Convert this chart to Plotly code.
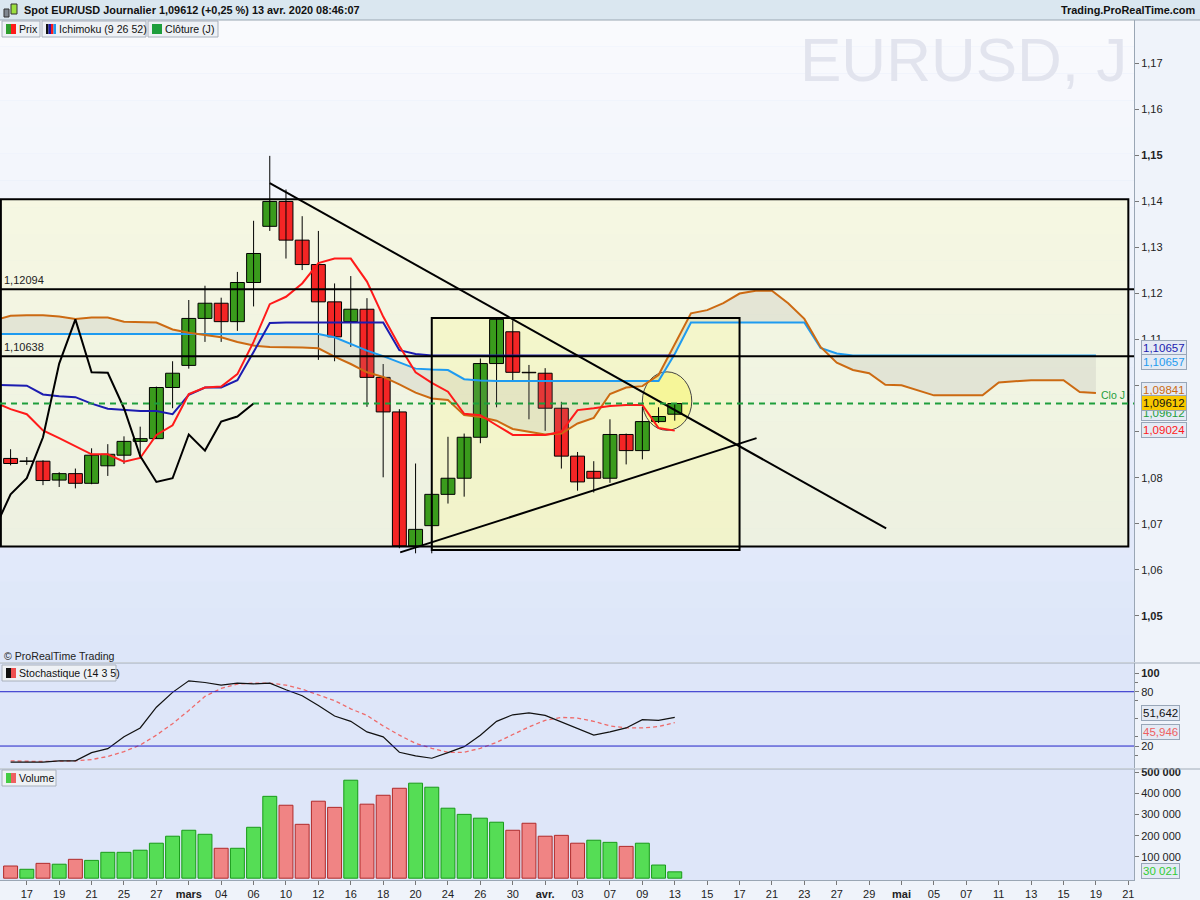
import plotly.graph_objects as go

# ---------------- data ----------------
title_text = "Spot EUR/USD Journalier 1,09612 (+0,25 %) 13 avr. 2020 08:46:07"

tick_labels = ["17", "19", "21", "25", "27", "mars", "04", "06", "10", "12", "16", "18",
               "20", "24", "26", "30", "avr.", "03", "07", "09", "13", "15", "17", "21",
               "23", "27", "29", "mai", "05", "07", "11", "13", "15", "19", "21"]
month_labels = ["mars", "avr.", "mai"]
tick_idx = list(range(1, 70, 2))

# daily candles, 14 Feb -> 13 Apr 2020 (trading day index)
bar_idx = list(range(42))
opens = [1.0842, 1.08355, 1.0836, 1.0795, 1.0809, 1.0788, 1.0826, 1.0849, 1.0879, 1.0885,
         1.0996, 1.1044, 1.1146, 1.1179, 1.1139, 1.1224, 1.1346, 1.1400, 1.1316, 1.1263,
         1.1182, 1.1139, 1.1166, 1.1018, 1.0943, 1.0652, 1.0696, 1.0764, 1.0799, 1.0888,
         1.1048, 1.1117, 1.1029, 1.1027, 1.0951, 1.0847, 1.0814, 1.0799, 1.0894, 1.0859,
         1.0922, 1.0938]
highs = [1.0862, 1.0845, 1.0838, 1.0812, 1.0820, 1.0864, 1.0873, 1.0890, 1.0911, 1.0998,
         1.1053, 1.1186, 1.1217, 1.1191, 1.1247, 1.1358, 1.1499, 1.1426, 1.1368, 1.1336,
         1.1222, 1.1238, 1.1190, 1.1047, 1.0949, 1.0831, 1.0766, 1.0889, 1.0896, 1.1059,
         1.1146, 1.1142, 1.1045, 1.1038, 1.0965, 1.0856, 1.0836, 1.0927, 1.0896, 1.0954,
         1.0953, 1.0962]
lows = [1.0827, 1.0828, 1.0784, 1.0780, 1.0777, 1.0786, 1.0804, 1.0830, 1.0842, 1.0885,
        1.0951, 1.1037, 1.1095, 1.1095, 1.1119, 1.1172, 1.1336, 1.1276, 1.1251, 1.1056,
        1.1053, 1.1084, 1.0954, 1.0801, 1.0647, 1.0636, 1.0636, 1.0744, 1.0759, 1.0875,
        1.0953, 1.1012, 1.0927, 1.0902, 1.0820, 1.0772, 1.0768, 1.0789, 1.0829, 1.0840,
        1.0919, 1.0924]
closes = [1.0831, 1.08365, 1.0794, 1.0809, 1.0788, 1.0849, 1.0851, 1.0879, 1.0885, 1.0996,
          1.1027, 1.1146, 1.1179, 1.1139, 1.1224, 1.1287, 1.1400, 1.1316, 1.1263, 1.1182,
          1.1106, 1.1166, 1.1018, 1.0943, 1.0652, 1.0688, 1.0764, 1.0799, 1.0888, 1.1048,
          1.1144, 1.1029, 1.1028, 1.0951, 1.0847, 1.0791, 1.0799, 1.0894, 1.0859, 1.0922,
          1.0933, 1.09612]
volumes = [57500, 42000, 70000, 66000, 89000, 84000, 122000, 122000, 132000, 165000,
           198000, 226000, 207000, 141000, 141000, 240000, 386000, 344000, 254000, 363000,
           334000, 462000, 349000, 391000, 424000, 448000, 429000, 330000, 301000, 283000,
           264000, 226000, 259000, 198000, 202000, 165000, 179000, 169000, 150000, 165000,
           62000, 30021]
stoch_k = [2.2, 2.2, 2.2, 3.6, 3.6, 12.7, 17.1, 30.2, 40.0, 62.9, 79.3, 92.0, 90.2, 87.3,
           89.5, 88.7, 89.5, 82.2, 75.6, 64.7, 53.1, 47.3, 35.6, 30.2, 13.1, 9.1, 6.5, 12.7,
           19.3, 32.0, 47.3, 54.5, 56.7, 53.8, 46.5, 38.5, 32.0, 35.6, 40.0, 49.1, 48.4, 51.642]
stoch_d = [3.6, 2.9, 2.9, 3.3, 3.6, 5.1, 8.4, 13.8, 21.1, 32.0, 44.7, 59.3, 74.9, 83.6,
           88.4, 89.5, 89.5, 87.3, 82.9, 76.4, 70.2, 61.1, 53.8, 42.2, 32.0, 22.9, 17.5, 13.1,
           13.1, 17.5, 24.0, 32.7, 41.1, 48.4, 51.6, 50.9, 47.3, 42.2, 40.0, 40.0, 41.5, 45.946]

# Ichimoku (9 26 52)
line_idx = list(range(-1, 42))
tenkan = [1.0964, 1.0949, 1.0938, 1.0903, 1.0886, 1.0869, 1.0851, 1.0851, 1.0835, 1.0843,
          1.0893, 1.0914, 1.0982, 1.0996, 1.0998, 1.1025, 1.1095, 1.1177, 1.1193, 1.1222,
          1.1266, 1.1276, 1.1276, 1.1226, 1.1150, 1.1086, 1.1029, 1.1006, 1.0987, 1.0939,
          1.0936, 1.0914, 1.0893, 1.0893, 1.0893, 1.0900, 1.0947, 1.0951, 1.0956, 1.0958,
          1.0958, 1.0908, 1.09024]
kijun = [1.1002, 1.1001, 1.1000, 1.0981, 1.0977, 1.0975, 1.0961, 1.0950, 1.0947, 1.0945,
         1.0945, 1.0938, 1.0980, 1.0996, 1.0996, 1.1012, 1.1073, 1.1136, 1.1137, 1.1137,
         1.1137, 1.1137, 1.1137, 1.1137, 1.1137, 1.1077, 1.1069, 1.10657, 1.10657, 1.10657,
         1.10657, 1.10657, 1.10657, 1.10657, 1.10657, 1.10657, 1.10657, 1.10657, 1.10657,
         1.10657, 1.10657, 1.10657, 1.10657]
cloud_idx = list(range(-1, 68))
senkou_a = [1.1112] * 21 + [1.1105, 1.1090, 1.1076, 1.1064, 1.1051, 1.1037, 1.1035, 1.1034,
            1.1014, 1.1011] + [1.1010] * 11 + [1.1069] + [1.1137] * 8 + [1.1082, 1.1070] \
           + [1.10657] * 16
senkou_b = [1.1142, 1.1152, 1.1153, 1.1153, 1.1150, 1.1145, 1.1148, 1.1148, 1.1139, 1.1138,
            1.1137, 1.1122, 1.1115, 1.1110, 1.1105, 1.1095, 1.1087, 1.1084, 1.1084, 1.1083,
            1.1081, 1.1063, 1.1047, 1.1029, 1.1019, 1.1003, 1.0985, 1.0972, 1.0969, 1.0936,
            1.0932, 1.0924, 1.0906, 1.0900, 1.0894, 1.0896, 1.0918, 1.0930, 1.0982, 1.0996,
            1.0999, 1.1023, 1.1091, 1.1157, 1.1164, 1.1179, 1.1200, 1.1206, 1.1206, 1.1179,
            1.1145, 1.1084, 1.1050, 1.1034, 1.1027, 1.1002, 1.1001, 1.0990, 1.0979, 1.0979,
            1.0979, 1.0979, 1.1007, 1.1010, 1.1012, 1.1012, 1.1012, 1.0986, 1.09841]

price_ticks = [1.05, 1.06, 1.07, 1.08, 1.09, 1.10, 1.11, 1.12, 1.13, 1.14, 1.15, 1.16, 1.17]
stoch_ticks = [20, 80, 100]
vol_ticks = [100000, 200000, 300000, 400000, 500000]

# drawings on the chart
levels = [1.12094, 1.10638]
last_close = 1.09612
outer_box = [-0.6, 69.0, 1.0651, 1.1405]
inner_box = [26.0, 45.0, 1.0643, 1.1147]
down_trend = [16.0, 1.1440, 54.05, 1.0690]
up_trend = [24.05, 1.0638, 46.05, 1.0886]
circle = [39.0, 42.05, 1.0903, 1.1030]

# ---------------- figure ----------------
FONT = "Liberation Sans, Arial, sans-serif"
GREEN = "#3A9B1C"
RED = "#F42525"
X_RANGE = [-0.654, 69.35]
PLOT_W, PLOT_H = 1134, 860


def px(xp):
    return xp / PLOT_W


def py(yp):
    return (880 - yp) / PLOT_H


fig = go.Figure()

# candle wicks
wx, wy = [], []
for i, h, l in zip(bar_idx, highs, lows):
    wx += [i, i, None]
    wy += [l, h, None]
fig.add_trace(go.Scatter(x=wx, y=wy, mode="lines", line=dict(color="black", width=1),
                         xaxis="x", yaxis="y", hoverinfo="skip"))

# ichimoku cloud
fig.add_trace(go.Scatter(x=cloud_idx, y=senkou_a, mode="lines",
                         line=dict(color="#1E9BF0", width=2), xaxis="x", yaxis="y"))
fig.add_trace(go.Scatter(x=cloud_idx, y=senkou_b, mode="lines", fill="tonexty",
                         fillcolor="rgba(150,150,150,0.16)",
                         line=dict(color="#CC6A12", width=2), xaxis="x", yaxis="y"))

# candle bodies
body_col = [GREEN if c > o else RED for o, c in zip(opens, closes)]
fig.add_trace(go.Bar(x=bar_idx, y=[abs(c - o) for o, c in zip(opens, closes)],
                     base=[min(o, c) for o, c in zip(opens, closes)], width=0.86,
                     marker=dict(color=body_col, line=dict(color="black", width=1)),
                     xaxis="x", yaxis="y"))

fig.add_trace(go.Scatter(x=line_idx, y=kijun, mode="lines",
                         line=dict(color="#1C1CB0", width=2), xaxis="x", yaxis="y"))
fig.add_trace(go.Scatter(x=line_idx, y=tenkan, mode="lines",
                         line=dict(color="#FF1A1A", width=2), xaxis="x", yaxis="y"))
chikou_x = [i - 26 for i in bar_idx[25:]]
chikou_y = closes[25:]
fig.add_trace(go.Scatter(x=chikou_x, y=chikou_y, mode="lines",
                         line=dict(color="black", width=2), xaxis="x", yaxis="y"))

# stochastic
fig.add_trace(go.Scatter(x=bar_idx, y=stoch_d, mode="lines",
                         line=dict(color="#EE6A6A", width=1.3, dash="4px,3px"),
                         xaxis="x2", yaxis="y2"))
fig.add_trace(go.Scatter(x=bar_idx, y=stoch_k, mode="lines",
                         line=dict(color="#111111", width=1.2), xaxis="x2", yaxis="y2"))

# volume (colour from close vs previous close)
vol_up = [False] + [closes[i] > closes[i - 1] for i in range(1, len(closes))]
fig.add_trace(go.Bar(x=bar_idx, y=volumes, width=0.86,
                     marker=dict(color=["#55DD55" if u else "#F08484" for u in vol_up],
                                 line=dict(color=["#189A18" if u else "#B02A2A" for u in vol_up],
                                           width=1)),
                     xaxis="x3", yaxis="y3"))

shapes = []
# background gradient of the price panel
n_band = 24
top_c, bot_c = (249, 250, 253), (221, 230, 249)
for k in range(n_band):
    t = k / (n_band - 1)
    c = tuple(round(top_c[j] + (bot_c[j] - top_c[j]) * t) for j in range(3))
    shapes.append(dict(type="rect", xref="paper", yref="y domain", x0=0, x1=1,
                       y0=1 - (k + 1) / n_band, y1=1 - k / n_band, layer="below",
                       fillcolor="rgb(%d,%d,%d)" % c, line=dict(width=0)))
# drawing fills
shapes.append(dict(type="rect", xref="x", yref="y", x0=outer_box[0], x1=outer_box[1],
                   y0=outer_box[2], y1=outer_box[3], layer="below",
                   fillcolor="rgba(250,250,195,0.45)", line=dict(width=0)))
shapes.append(dict(type="rect", xref="x", yref="y", x0=inner_box[0], x1=inner_box[1],
                   y0=inner_box[2], y1=inner_box[3], layer="below",
                   fillcolor="rgba(248,248,170,0.40)", line=dict(width=0)))
shapes.append(dict(type="circle", xref="x", yref="y", x0=circle[0], x1=circle[1],
                   y0=circle[2], y1=circle[3], layer="below",
                   fillcolor="rgba(246,246,140,0.8)", line=dict(color="#444", width=1)))
# drawing outlines and lines
for b in (outer_box, inner_box):
    shapes.append(dict(type="rect", xref="x", yref="y", x0=b[0], x1=b[1], y0=b[2], y1=b[3],
                       line=dict(color="black", width=2)))
for lv in levels:
    shapes.append(dict(type="line", xref="paper", yref="y", x0=0, x1=1, y0=lv, y1=lv,
                       line=dict(color="black", width=2)))
for tl in (down_trend, up_trend):
    shapes.append(dict(type="line", xref="x", yref="y", x0=tl[0], y0=tl[1], x1=tl[2], y1=tl[3],
                       line=dict(color="black", width=2)))
shapes.append(dict(type="line", xref="paper", yref="y", x0=0, x1=1, y0=last_close,
                   y1=last_close, line=dict(color="#1E9E3C", width=2, dash="6px,5px")))
for lv in (80, 20):
    shapes.append(dict(type="line", xref="paper", yref="y2", x0=0, x1=1, y0=lv, y1=lv,
                       line=dict(color="#2020C8", width=1)))
# panel separators
for yp in (663, 769):
    shapes.append(dict(type="line", xref="paper", yref="paper", x0=0, x1=1200 / PLOT_W,
                       y0=py(yp), y1=py(yp), line=dict(color="#A2ACB8", width=1)))
# header bar
shapes.append(dict(type="rect", xref="paper", yref="paper", x0=0, x1=1200 / PLOT_W,
                   y0=py(20), y1=py(0), fillcolor="#DAE7F0", line=dict(width=0)))
shapes.append(dict(type="line", xref="paper", yref="paper", x0=0, x1=1200 / PLOT_W,
                   y0=py(20), y1=py(20), line=dict(color="#9AA6B2", width=1)))
shapes.append(dict(type="rect", xref="paper", yref="paper", x0=px(4), x1=px(9),
                   y0=py(17), y1=py(9), fillcolor="#808890", line=dict(color="#333", width=1)))
shapes.append(dict(type="rect", xref="paper", yref="paper", x0=px(11), x1=px(17),
                   y0=py(14), y1=py(4), fillcolor="#9CE040", line=dict(color="#333", width=1)))

annotations = []


def legend_box(x0, x1, y0, y1, cols, label):
    shapes.append(dict(type="rect", xref="paper", yref="paper", x0=px(x0), x1=px(x1),
                       y0=py(y1), y1=py(y0), fillcolor="#EEF1F5",
                       line=dict(color="#A8B0BC", width=1)))
    w = 10 / len(cols)
    for k, c in enumerate(cols):
        shapes.append(dict(type="rect", xref="paper", yref="paper", x0=px(x0 + 4 + k * w),
                           x1=px(x0 + 4 + (k + 1) * w), y0=py(y1 - 3), y1=py(y0 + 3),
                           fillcolor=c, line=dict(width=0)))
    annotations.append(dict(x=px(x0 + 15), y=py((y0 + y1) / 2), xref="paper", yref="paper",
                            xanchor="left", yanchor="middle", text=label, showarrow=False,
                            font=dict(size=10.6, color="#111")))


legend_box(2, 40, 21, 37, ["#2E9E2E", "#FF1A1A"], "Prix")
legend_box(42, 146, 21, 37, ["#111111", "#1C1CB0", "#FF1A1A", "#1E9BF0"], "Ichimoku (9 26 52)")
legend_box(148, 218, 21, 37, ["#1E9E3C"], "Clôture (J)")
legend_box(2, 116, 665, 681, ["#111111", "#EE5050"], "Stochastique (14 3 5)")
legend_box(2, 56, 770, 786, ["#44CC44", "#EE6060"], "Volume")

annotations.append(dict(x=px(22), y=py(10), xref="paper", yref="paper", xanchor="left",
                        yanchor="middle", text="<b>" + title_text + "</b>", showarrow=False,
                        font=dict(size=10.9, color="#111")))
annotations.append(dict(x=px(1197), y=py(10), xref="paper", yref="paper", xanchor="right",
                        yanchor="middle", text="<b>Trading.ProRealTime.com</b>",
                        showarrow=False, font=dict(size=10.9, color="#111")))
annotations.append(dict(x=px(963), y=py(60), xref="paper", yref="paper", xanchor="center",
                        yanchor="middle", text="EURUSD, J", showarrow=False,
                        font=dict(size=62, color="#E2E4EE")))
annotations.append(dict(x=px(2), y=py(656), xref="paper", yref="paper", xanchor="left",
                        yanchor="middle", text="© ProRealTime Trading", showarrow=False,
                        font=dict(size=10.6, color="#222")))
for lv in levels:
    annotations.append(dict(x=px(2), y=lv, xref="paper", yref="y", xanchor="left",
                            yanchor="bottom", yshift=1, showarrow=False,
                            text=("%.5f" % lv).replace(".", ","),
                            font=dict(size=11, color="#222")))
annotations.append(dict(x=px(1127), y=last_close, xref="paper", yref="y", xanchor="right",
                        yanchor="bottom", yshift=1, showarrow=False, text="Clo J",
                        font=dict(size=10.5, color="#1E9E3C")))


def tag(value, yref, color, bg, shift, text=None):
    annotations.append(dict(x=px(1141), y=value, xref="paper", yref=yref, xanchor="left",
                            yanchor="middle", yshift=shift, showarrow=False,
                            text=text or ("%.5f" % value).replace(".", ","),
                            font=dict(size=11.5, color=color), bgcolor=bg,
                            bordercolor="#98A6B8", borderwidth=1, borderpad=1))


tag(last_close, "y", "#1E9E3C", "#E4EAF4", -9)
tag(kijun[-1], "y", "#1C1CB0", "#E4EAF4", 7)
tag(senkou_a[-1], "y", "#1E9BF0", "#E4EAF4", -7)
tag(senkou_b[-1], "y", "#CC6A12", "#E4EAF4", 3)
tag(last_close, "y", "#111", "#F8C800", 1)
tag(tenkan[-1], "y", "#FF1A1A", "#E4EAF4", 1)
tag(stoch_k[-1], "y2", "#111", "#E4EAF4", 4, ("%.3f" % stoch_k[-1]).replace(".", ","))
tag(stoch_d[-1], "y2", "#EE6060", "#E4EAF4", -9, ("%.3f" % stoch_d[-1]).replace(".", ","))
tag(volumes[-1], "y3", "#33CC33", "#E4EAF4", 1, "{:,}".format(volumes[-1]).replace(",", " "))

price_text = []
for v in price_ticks:
    s = ("%.2f" % v).replace(".", ",")
    price_text.append("<b>%s</b>" % s if round(v * 100) % 5 == 0 else s)
vol_text = ["{:,}".format(v).replace(",", " ") for v in vol_ticks]
vol_text[-1] = "<b>" + vol_text[-1] + "</b>"
x_text = ["<b>%s</b>" % t if t in month_labels else t for t in tick_labels]

axis_common = dict(showgrid=False, zeroline=False, showline=True, linecolor="#9AA6B4",
                   ticks="outside", ticklen=4, tickcolor="#777", side="right",
                   automargin=False, tickfont=dict(size=11, color="#222"))
xaxis_common = dict(range=X_RANGE, showgrid=False, zeroline=False, showline=False,
                    showticklabels=False, domain=[0, 1], automargin=False)

fig.update_layout(
    width=1200, height=900,
    margin=dict(l=0, r=1200 - PLOT_W, t=20, b=20, autoexpand=False),
    paper_bgcolor="#EFF3FA", plot_bgcolor="#DEE6F9",
    font=dict(family=FONT, size=11, color="#222"),
    showlegend=False, hovermode=False, barmode="overlay",
    xaxis=dict(anchor="y", **xaxis_common),
    xaxis2=dict(anchor="y2", **xaxis_common),
    xaxis3=dict(anchor="y3", range=X_RANGE, showgrid=False, zeroline=False, showline=True,
                linecolor="#9AA6B4", domain=[0, 1], tickmode="array", tickvals=tick_idx,
                ticktext=x_text, ticks="outside", ticklen=4, tickcolor="#777",
                automargin=False, tickfont=dict(size=11, color="#222")),
    yaxis=dict(anchor="x", domain=[0.2535, 1], range=[1.04, 1.1794], tickmode="array",
               tickvals=price_ticks, ticktext=price_text, **axis_common),
    yaxis2=dict(anchor="x2", domain=[0.1302, 0.2523], range=[-4.3, 111.7], tickmode="array",
                tickvals=stoch_ticks, ticktext=["20", "80", "<b>100</b>"],
                minor=dict(tickvals=[10, 30, 50, 70, 90], ticks="outside", ticklen=3,
                           tickcolor="#777"), **axis_common),
    yaxis3=dict(anchor="x3", domain=[0, 0.1291], range=[-8500, 515000], tickmode="array",
                tickvals=vol_ticks, ticktext=vol_text, **axis_common),
    shapes=shapes,
    annotations=annotations,
)

# the page's default body margin would shift the 1200x900 figure inside the window
fig.write_html("out.html", config={"displayModeBar": False},
               post_script="document.body.style.margin='0px';")
